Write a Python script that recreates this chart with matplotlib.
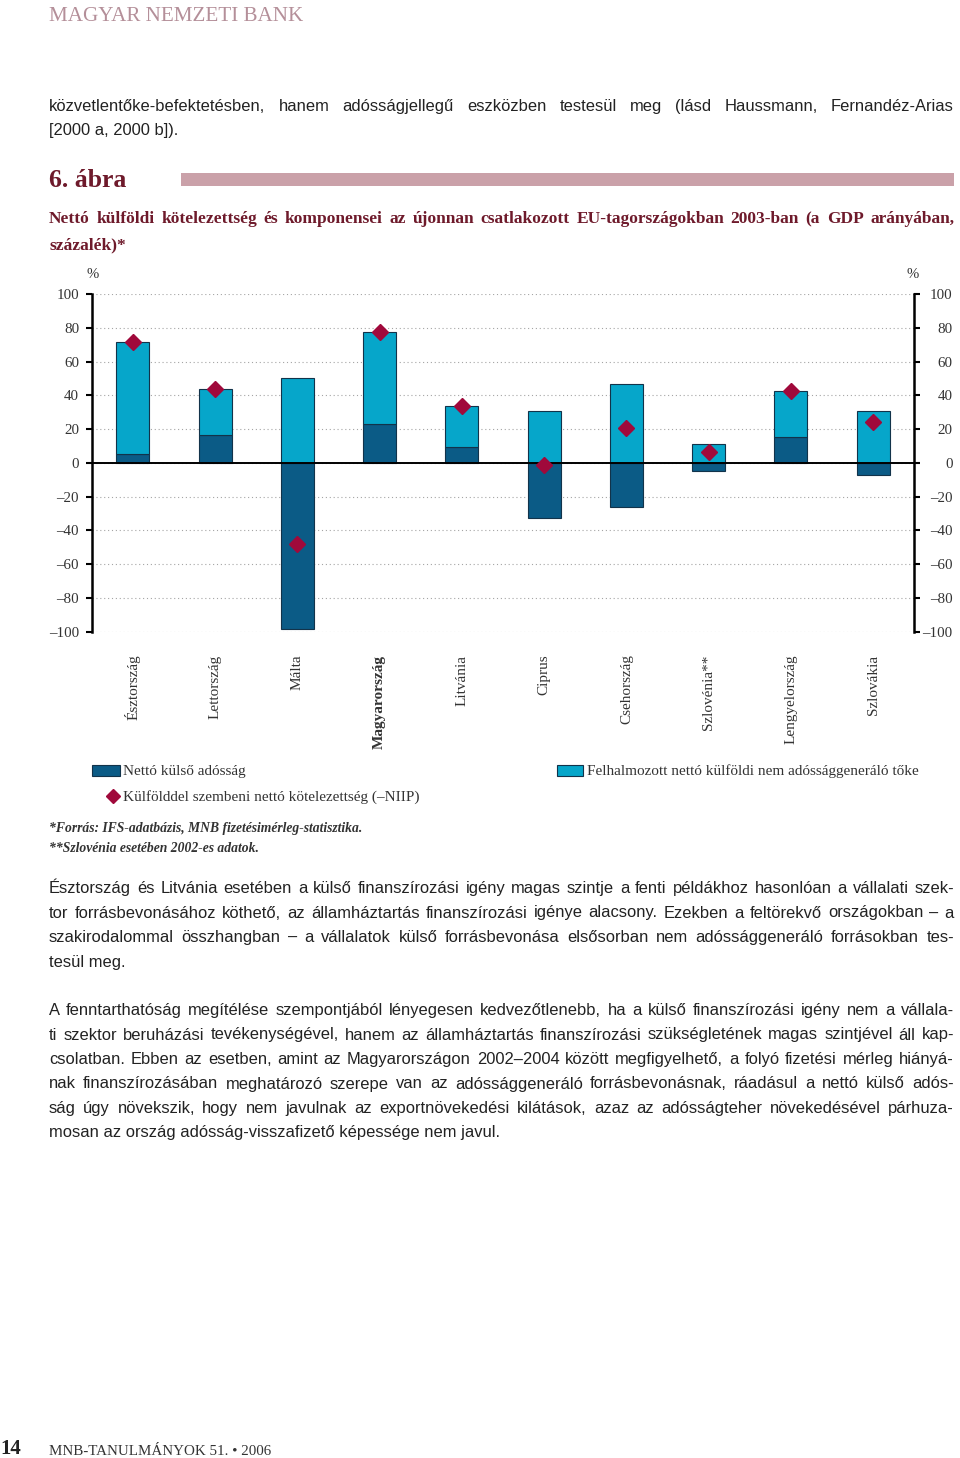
import matplotlib
matplotlib.use("Agg")
import matplotlib.pyplot as plt
from matplotlib.patches import Rectangle
from matplotlib.lines import Line2D
from matplotlib.ticker import FuncFormatter

# --- chart data (% of GDP, 2003) ---
countries = ["Észtország", "Lettország", "Málta", "Magyarország", "Litvánia",
             "Ciprus", "Csehország", "Szlovénia**", "Lengyelország", "Szlovákia"]
net_debt = [5.1, 16.4, -98.5, 22.9, 9.3, -32.4, -26.1, -5.1, 15.4, -7.1]
non_debt_capital = [66.2, 27.6, 50.3, 54.3, 24.5, 31.0, 46.8, 11.1, 27.0, 30.8]
niip = [71.3, 44.0, -48.2, 77.2, 33.8, -1.4, 20.7, 6.3, 42.3, 24.1]
y_ticks = [-100, -80, -60, -40, -20, 0, 20, 40, 60, 80, 100]

legend_labels = ["Nettó külső adósság",
                 "Felhalmozott nettó külföldi nem adóssággeneráló tőke",
                 "Külfölddel szembeni nettó kötelezettség (–NIIP)"]

# --- page text ---
header = "MAGYAR NEMZETI BANK"
para1 = ["közvetlentőke-befektetésben, hanem adósságjellegű eszközben testesül meg (lásd Haussmann, Fernandéz-Arias",
         "[2000 a, 2000 b])."]
fig_no = "6. ábra"
title = ["Nettó külföldi kötelezettség és komponensei az újonnan csatlakozott EU-tagországokban 2003-ban (a GDP arányában,",
         "százalék)*"]
notes = ["*Forrás: IFS-adatbázis, MNB fizetésimérleg-statisztika.",
         "**Szlovénia esetében 2002-es adatok."]
para2 = ["Észtország és Litvánia esetében a külső finanszírozási igény magas szintje a fenti példákhoz hasonlóan a vállalati szek-",
         "tor forrásbevonásához köthető, az államháztartás finanszírozási igénye alacsony. Ezekben a feltörekvő országokban – a",
         "szakirodalommal összhangban – a vállalatok külső forrásbevonása elsősorban nem adóssággeneráló forrásokban tes-",
         "tesül meg."]
para3 = ["A fenntarthatóság megítélése szempontjából lényegesen kedvezőtlenebb, ha a külső finanszírozási igény nem a vállala-",
         "ti szektor beruházási tevékenységével, hanem az államháztartás finanszírozási szükségletének magas szintjével áll kap-",
         "csolatban. Ebben az esetben, amint az Magyarországon 2002–2004 között megfigyelhető, a folyó fizetési mérleg hiányá-",
         "nak finanszírozásában meghatározó szerepe van az adóssággeneráló forrásbevonásnak, ráadásul a nettó külső adós-",
         "ság úgy növekszik, hogy nem javulnak az exportnövekedési kilátások, azaz az adósságteher növekedésével párhuza-",
         "mosan az ország adósság-visszafizető képessége nem javul."]
footer_no = "14"
footer = "MNB-TANULMÁNYOK 51. • 2006"

DARK = "#0b5b86"
LIGHT = "#06a6ca"
EDGE = "#12334a"
RED = "#a0093b"
MAROON = "#6e1a2b"
MAUVE = "#b48f99"
BAND = "#caa1a9"
TXT = "#222222"
SERIF = ["Liberation Serif", "DejaVu Serif"]
SANS = ["Liberation Sans", "DejaVu Sans"]

W, H = 960, 1458
fig = plt.figure(figsize=(W / 100, H / 100), dpi=100)
renderer = fig.canvas.get_renderer()


def fx(px):
    return px / W


def fy(py):
    return 1 - py / H


def fit_size(lines, base, target, **kw):
    widest = 0
    for ln in lines:
        t = fig.text(0, 0, ln, fontsize=base, **kw)
        widest = max(widest, t.get_window_extent(renderer).width)
        t.remove()
    return base * min(1.0, 0.985 * target / widest)


def justify(line, x0, x1, y, **kw):
    words = line.split(" ")
    parts = [fig.text(0, fy(y), w, va="baseline", ha="left", **kw) for w in words]
    widths = [p.get_window_extent(renderer).width for p in parts]
    gap = (x1 - x0 - sum(widths)) / max(len(words) - 1, 1)
    x = x0
    for p, w in zip(parts, widths):
        p.set_x(fx(x))
        x += w + gap


def paragraph(lines, x0, x1, y0, step, **kw):
    for i, ln in enumerate(lines):
        y = y0 + i * step
        if i < len(lines) - 1:
            justify(ln, x0, x1, y, **kw)
        else:
            fig.text(fx(x0), fy(y), ln, va="baseline", ha="left", **kw)


# --- page text ---
fig.text(fx(49), fy(21), header, fontsize=15.2, family=SERIF, color=MAUVE,
         va="baseline")

body_size = fit_size(para1[:1] + para2[:-1] + para3[:-1], 14, 905, family=SANS)
body_kw = dict(fontsize=body_size, family=SANS, color=TXT)
paragraph(para1, 49, 954, 111, 24.5, **body_kw)

fig.text(fx(49), fy(187), fig_no, fontsize=18.5, family=SERIF, weight="bold",
         color=MAROON, va="baseline")
fig.add_artist(Rectangle((fx(181), fy(186)), fx(954) - fx(181), (186 - 173) / H,
                         transform=fig.transFigure, color=BAND, lw=0))

title_size = fit_size(title[:1], 12.5, 905, family=SERIF, weight="bold")
paragraph(title, 49, 954, 223, 26, fontsize=title_size, family=SERIF,
          weight="bold", color=MAROON)

# --- chart ---
ax = fig.add_axes([fx(91.7), fy(631.7), fx(914.3) - fx(91.7), (631.7 - 294) / H])
x = list(range(len(countries)))
light_bottom = [max(d, 0) for d in net_debt]
ax.bar(x, net_debt, width=0.4, color=DARK, edgecolor=EDGE, linewidth=0.8, zorder=3)
ax.bar(x, non_debt_capital, width=0.4, bottom=light_bottom, color=LIGHT,
       edgecolor=EDGE, linewidth=0.8, zorder=3)
ax.plot(x, niip, linestyle="none", marker="D", markersize=8, color=RED, zorder=5)
ax.axhline(0, color="black", lw=1.4, zorder=4)

ax.set_xlim(-0.5, len(countries) - 0.5)
ax.set_ylim(-100, 100)
ax.set_yticks(y_ticks)
dash_fmt = FuncFormatter(lambda v, p: f"–{abs(int(v))}" if v < 0 else f"{int(v)}")
ax.yaxis.set_major_formatter(dash_fmt)
ax.grid(axis="y", linestyle=(0, (1, 2.5)), color="#a5a5a5", lw=0.8, zorder=0)
for s in ["top", "bottom", "right"]:
    ax.spines[s].set_visible(False)
ax.spines["left"].set_linewidth(1.8)
ax.tick_params(axis="y", direction="out", length=4.5, width=1.5, pad=4.6,
               labelsize=10.8, labelcolor="#333333")
for lab in ax.get_yticklabels():
    lab.set_family(SERIF)

ax2 = ax.twinx()
ax2.set_ylim(-100, 100)
ax2.set_yticks(y_ticks)
ax2.yaxis.set_major_formatter(dash_fmt)
for s in ["top", "bottom", "left"]:
    ax2.spines[s].set_visible(False)
ax2.spines["right"].set_linewidth(1.8)
ax2.tick_params(axis="y", direction="out", length=4.5, width=1.5, pad=23,
                labelsize=10.8, labelcolor="#333333")
for lab in ax2.get_yticklabels():
    lab.set_family(SERIF)
    lab.set_horizontalalignment("right")

ax.set_xticks(x)
ax.set_xticklabels(countries, rotation=90, va="top", ha="center", fontsize=11,
                   family=SERIF, color="#333333")
ax.get_xticklabels()[countries.index("Magyarország")].set_fontweight("bold")
ax.tick_params(axis="x", length=0, pad=16.5)

fig.text(fx(93), fy(275), "%", fontsize=10.5, family=SERIF, color="#333333",
         ha="center", va="center")
fig.text(fx(913), fy(275), "%", fontsize=10.5, family=SERIF, color="#333333",
         ha="center", va="center")

# --- legend ---
fig.add_artist(Rectangle((fx(92), fy(776)), fx(120) - fx(92), 11 / H,
                         transform=fig.transFigure, facecolor=DARK, edgecolor=EDGE, lw=0.8))
fig.add_artist(Rectangle((fx(557), fy(776)), fx(583) - fx(557), 11 / H,
                         transform=fig.transFigure, facecolor=LIGHT, edgecolor=EDGE, lw=0.8))
fig.add_artist(Line2D([fx(113)], [fy(796)], marker="D", markersize=7.5, color=RED,
                      linestyle="none", transform=fig.transFigure))
leg_kw = dict(fontsize=11, family=SERIF, color="#333333", va="center", ha="left")
fig.text(fx(123), fy(771), legend_labels[0], **leg_kw)
fig.text(fx(587), fy(771), legend_labels[1], **leg_kw)
fig.text(fx(123), fy(797), legend_labels[2], **leg_kw)

note_kw = dict(fontsize=9.8, family=SERIF, style="italic", weight="bold",
               color="#333333", va="baseline", ha="left")
fig.text(fx(49), fy(832), notes[0], **note_kw)
fig.text(fx(49), fy(852), notes[1], **note_kw)

paragraph(para2, 49, 954, 893, 24.5, **body_kw)
paragraph(para3, 49, 954, 1015, 24.5, **body_kw)

fig.text(fx(0), fy(1454), footer_no, fontsize=15, family=SERIF, weight="bold",
         color="#222222", va="baseline", ha="left")
fig.text(fx(49), fy(1455), footer, fontsize=10.8, family=SERIF, color="#333333",
         va="baseline", ha="left")

fig.savefig("out.png", dpi=100)
